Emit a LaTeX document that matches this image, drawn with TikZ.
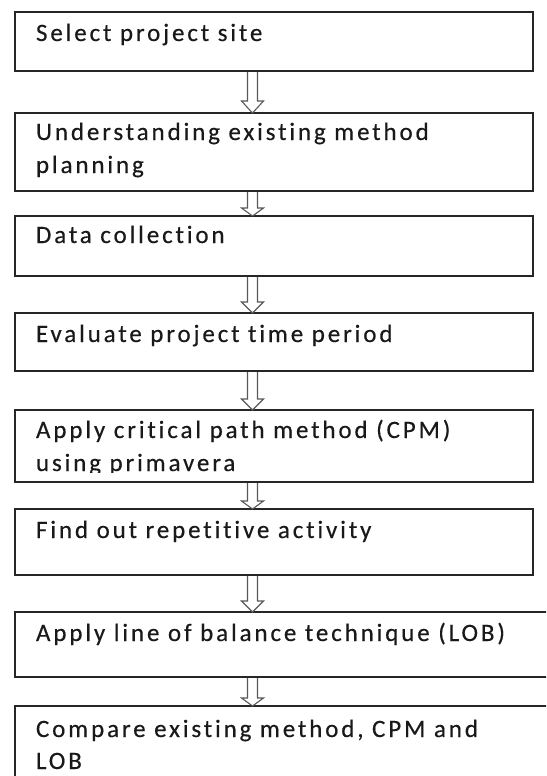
\documentclass[tikz,border=0pt]{standalone}
\usepackage{fontspec}
\setmainfont{Carlito}[LetterSpace=11.5, Ligatures=NoCommon, FakeBold=0.4]
\usetikzlibrary{calc}
\tikzset{
  box/.style={draw=black!85, line width=1.6pt, inner sep=0pt, outer sep=0pt, minimum width=518pt},
  widebox/.style={box, minimum width=555pt},
  txt/.style={anchor=base west, inner sep=0pt, outer sep=0pt, text=black!90, font=\fontsize{25}{29}\selectfont},
  arr/.style={draw=black!65, line width=1.1pt, fill=white, line join=miter},
}
\newcommand\blockarr[3]{%
  \draw[arr] let \p1=(#1.south -| ax), \p2=(#2.north -| ax) in
    (\x1-5pt,\y1-1pt) -- (\x1-5pt,\y2+#3) -- (\x1-11pt,\y2+#3) -- (\x2,\y2)
    -- (\x1+11pt,\y2+#3) -- (\x1+5pt,\y2+#3) -- (\x1+5pt,\y1-1pt);}
\begin{document}
\begin{tikzpicture}[x=1pt,y=-1pt]
\useasboundingbox (0,0) rectangle (546,776);
\clip (0,0) rectangle (546,776);
\coordinate (ax) at (252.5,0);
% boxes
\node[box, minimum height=59pt] (b1) at (274,41.5) {};
\node[box, minimum height=78pt] (b2) at (274,152) {};
\node[box, minimum height=60pt] (b3) at (274,246) {};
\node[box, minimum height=58pt] (b4) at (274,342) {};
\node[box, minimum height=72pt] (b5) at (274,446) {};
\node[box, minimum height=66pt] (b6) at (274,542) {};
\node[widebox, minimum height=65pt] (b7) at (292.5,644.5) {};
\node[widebox, minimum height=114pt] (b8) at (292.5,763) {};
% texts
\node[txt] (t1) at (36,41) {Select project site};
\node[txt] (t2a) at (36,140) {Understanding existing method};
\node[txt] (t2b) at (36,173) {planning};
\node[txt] (t3) at (36,243) {Data collection};
\node[txt] (t4) at (36,342) {Evaluate project time period};
\node[txt] (t5a) at (36,438) {Apply critical path method (CPM)};
\begin{scope}
  \clip (20,450) rectangle (520,472);
  \node[txt] (t5b) at (36,471) {using primavera};
\end{scope}
\node[txt] (t6) at (36,538) {Find out repetitive activity};
\node[txt] (t7) at (36,641) {Apply line of balance technique (LOB)};
\node[txt] (t8a) at (36,737) {Compare existing method, CPM and};
\node[txt] (t8b) at (36,769) {LOB};
% arrows
\blockarr{b1}{b2}{12pt}
\blockarr{b2}{b3}{8pt}
\blockarr{b3}{b4}{11pt}
\blockarr{b4}{b5}{11pt}
\blockarr{b5}{b6}{8pt}
\blockarr{b6}{b7}{11pt}
\blockarr{b7}{b8}{8pt}
\end{tikzpicture}
\end{document}
